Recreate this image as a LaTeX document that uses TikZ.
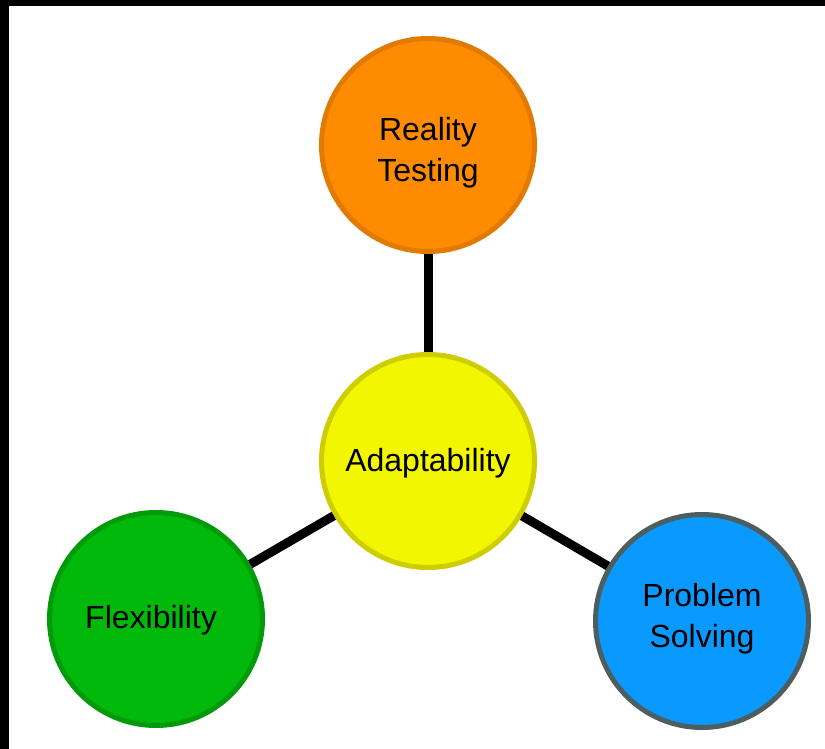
\documentclass[tikz,border=0pt]{standalone}
\usepackage{fontspec}
\setmainfont{Liberation Sans}
\definecolor{orfill}{HTML}{FF8C00}
\definecolor{ordraw}{HTML}{E27A00}
\definecolor{yefill}{HTML}{F2F700}
\definecolor{yedraw}{HTML}{CDCD00}
\definecolor{grfill}{HTML}{00B90A}
\definecolor{grdraw}{HTML}{009A0A}
\definecolor{blfill}{HTML}{0A99FF}
\definecolor{bldraw}{HTML}{4D5E60}
\begin{document}
\begin{tikzpicture}[x=1pt,y=-1pt,
  bubble/.style={circle,line width=5pt,minimum size=213pt,inner sep=0pt},
  label text/.style={align=center,font=\fontsize{32}{41}\selectfont}]
\useasboundingbox (0,0) rectangle (825,749);
\fill[white] (0,0) rectangle (825,749);
\fill[black] (0,0) rectangle (825,6);
\fill[black] (0,0) rectangle (9,749);
\node[bubble,fill=orfill,draw=ordraw] (rt) at (428,145) {};
\node[bubble,fill=yefill,draw=yedraw] (ad) at (428,461) {};
\node[bubble,fill=grfill,draw=grdraw] (fl) at (156,619) {};
\node[bubble,fill=blfill,draw=bldraw] (ps) at (702,621) {};
\draw[line width=9pt,black] (rt) -- (ad);
\draw[line width=9pt,black] (ad) -- (fl);
\draw[line width=9pt,black] (ad) -- (ps);
\node[label text] (rtt) at (428,153) {Reality\\Testing};
\node[label text] (adt) at (428,463) {Adaptability};
\node[label text] (flt) at (151,620) {Flexibility};
\node[label text] (pst) at (702,619) {Problem\\Solving};
\end{tikzpicture}
\end{document}
